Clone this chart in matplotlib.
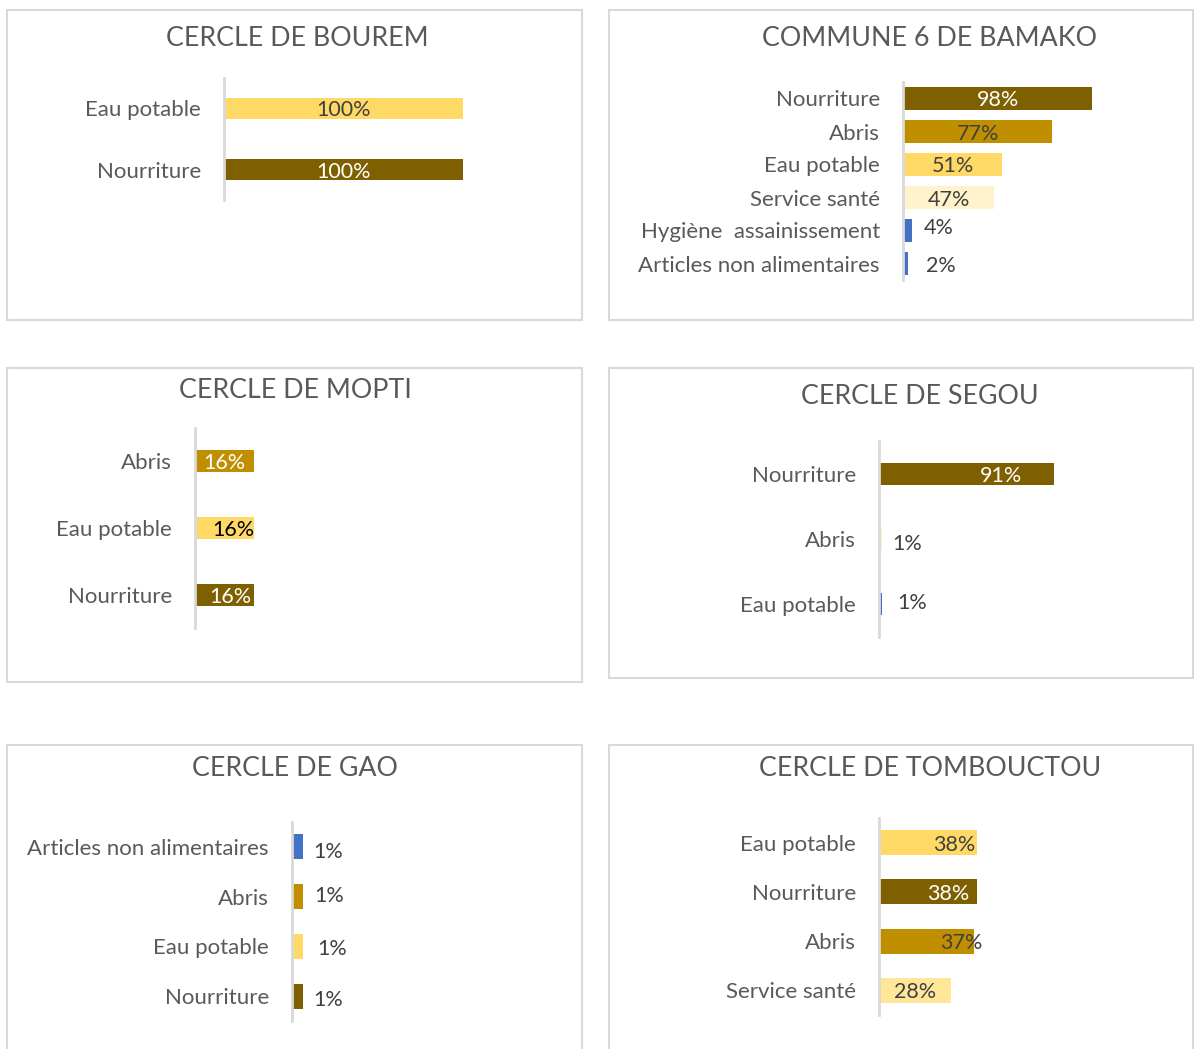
import matplotlib
matplotlib.use('Agg')
import matplotlib.pyplot as plt
from matplotlib.patches import Rectangle

plt.rcParams['font.family'] = ['Lato', 'DejaVu Sans']

W, H = 1194, 1049

BROWN = '#7F6000'
GOLD = '#BF8F00'
YELLOW = '#FFD966'
CREAM = '#FFF2CC'
PALE = '#FFE699'
BLUE = '#4472C4'
WHITE = '#FFFFFF'
DARK = '#404040'

### data ###
bourem_cats = ['Eau potable', 'Nourriture']
bourem_vals = [100, 100]

bamako_cats = ['Nourriture', 'Abris', 'Eau potable', 'Service santé',
               'Hygiène  assainissement', 'Articles non alimentaires']
bamako_vals = [98, 77, 51, 47, 4, 2]

mopti_cats = ['Abris', 'Eau potable', 'Nourriture']
mopti_vals = [16, 16, 16]

segou_cats = ['Nourriture', 'Abris', 'Eau potable']
segou_vals = [91, 1, 1]

gao_cats = ['Articles non alimentaires', 'Abris', 'Eau potable', 'Nourriture']
gao_vals = [1, 1, 1, 1]

tomb_cats = ['Eau potable', 'Nourriture', 'Abris', 'Service santé']
tomb_vals = [38, 38, 37, 28]


def fx(x):
    return x / W


def fy(y):
    return 1 - y / H


def panel(fig, frame, title, title_xy, ax_px, cats, vals, colors, px100,
          bar_h, txt_colors, offsets):
    x0, y0, x1, y1 = frame
    fig.patches.append(Rectangle((fx(x0), fy(y1)), (x1 - x0) / W, (y1 - y0) / H,
                                 transform=fig.transFigure, fill=False,
                                 ec='#D9D9D9', lw=1.5))
    fig.text(fx(title_xy[0]), fy(title_xy[1]), title, ha='center', va='center',
             fontsize=19.3, color='#595959')

    ax_x, ax_top, ax_bot = ax_px
    ax_w = 250
    ax = fig.add_axes([fx(ax_x + 1), fy(ax_bot), ax_w / W, (ax_bot - ax_top) / H])
    n = len(cats)
    ax.barh(range(n), vals, height=bar_h, color=colors)
    ax.set_xlim(0, 100 * ax_w / (px100 - 1))
    ax.set_ylim(n - 0.5, -0.5)
    ax.set_yticks(range(n), cats)
    ax.set_xticks([])
    ax.tick_params(axis='y', length=0, pad=16.5, labelsize=16, labelcolor='#595959')
    for s in ['top', 'right', 'bottom']:
        ax.spines[s].set_visible(False)
    ax.spines['left'].set_color('#D9D9D9')
    ax.spines['left'].set_linewidth(2)
    ax.spines['left'].set_position(('outward', 0.8))
    ax.patch.set_alpha(0)

    for i, v in enumerate(vals):
        dx, dy = offsets[i]
        if dx is None:
            xy = (v / 2, i)
            dx = 0
        else:
            xy = (v, i)
        ax.annotate(f'{v}%', xy=xy, xytext=(dx, -dy), textcoords='offset pixels',
                    ha='center', va='center_baseline', fontsize=15.5,
                    color=txt_colors[i], annotation_clip=False)


def main():
    fig = plt.figure(figsize=(W / 100, H / 100), dpi=100)

    panel(fig, (7, 10, 582, 320), 'CERCLE DE BOUREM', (297, 38),
          (224, 78, 200), bourem_cats, bourem_vals, [YELLOW, BROWN], 239, 0.36,
          [DARK, WHITE], [(None, 0), (None, 0)])

    panel(fig, (609, 10, 1193, 320), 'COMMUNE 6 DE BAMAKO', (930, 38),
          (903, 82, 280), bamako_cats, bamako_vals,
          [BROWN, GOLD, YELLOW, CREAM, BLUE, BLUE], 193, 0.67,
          [WHITE, DARK, DARK, DARK, DARK, DARK],
          [(None, 0), (None, 0), (None, 0), (None, 0), (27, -4), (33, 1)])

    panel(fig, (7, 368, 582, 682), 'CERCLE DE MOPTI', (295, 390),
          (195, 428, 628), mopti_cats, mopti_vals, [GOLD, YELLOW, BROWN], 362, 0.33,
          [WHITE, 'black', WHITE], [(-29, 0), (-20, 0), (-23, 0)])

    panel(fig, (609, 368, 1193, 678), 'CERCLE DE SEGOU', (920, 397),
          (879, 441, 637), segou_cats, segou_vals, [BROWN, CREAM, BLUE], 192, 0.34,
          [WHITE, DARK, DARK], [(-53, 0), (25, 3), (30, -3)])

    panel(fig, (7, 745, 582, 1060), 'CERCLE DE GAO', (295, 768),
          (292, 822, 1021), gao_cats, gao_vals, [BLUE, GOLD, YELLOW, BROWN], 1000, 0.5,
          [DARK, DARK, DARK, DARK], [(25, 3), (26, -3), (29, 1), (25, 2)])

    panel(fig, (609, 745, 1193, 1060), 'CERCLE DE TOMBOUCTOU', (930, 768),
          (879, 818, 1015), tomb_cats, tomb_vals, [YELLOW, BROWN, GOLD, PALE], 255, 0.51,
          [DARK, WHITE, DARK, DARK], [(-22, 0), (-28, 0), (-13, 0), (-36, 0)])

    fig.savefig('out.png', dpi=100)


if __name__ == '__main__':
    main()
